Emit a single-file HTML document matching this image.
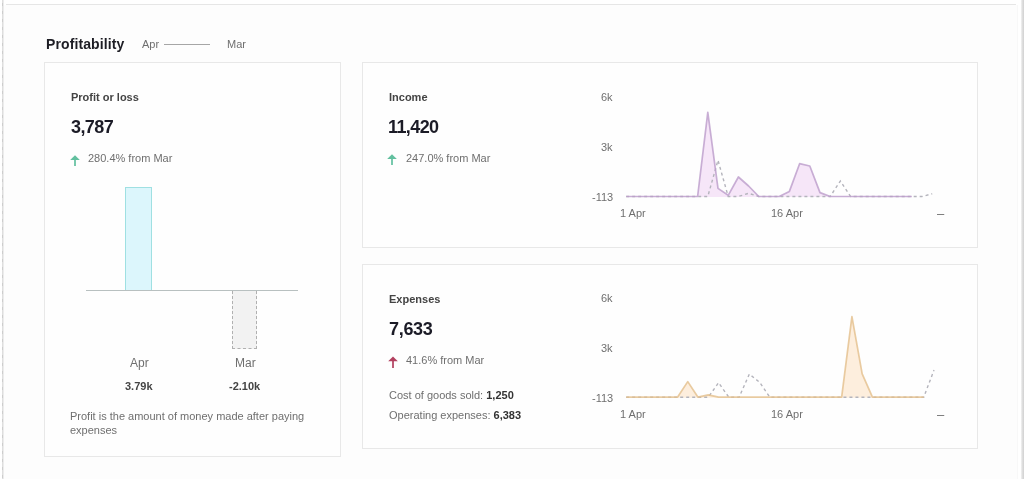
<!DOCTYPE html>
<html><head><meta charset="utf-8">
<style>
html,body{margin:0;padding:0;background:#fff;}
body{width:1024px;height:479px;overflow:hidden;position:relative;font-family:"Liberation Sans",Arial,sans-serif;color:#333;}
.a{position:absolute;white-space:nowrap;line-height:1;will-change:transform;}
.frame-l{position:absolute;left:2px;top:0;width:1px;height:479px;background:repeating-linear-gradient(to bottom,#dedede 0,#dedede 3px,#cdcdcd 3px,#cdcdcd 6px,#dedede 6px,#dedede 8px);box-shadow:1px 0 0 #ececec;}
.frame-t{position:absolute;left:6px;top:4px;width:1010px;height:0;border-top:1px solid #e6e6e6;}
.frame-r{position:absolute;left:1021px;top:0;width:3px;height:479px;background:linear-gradient(to right,#f2f2f2,#dadada 60%,#d2d2d2);}
.frame-r2{position:absolute;left:1017px;top:5px;width:1px;height:474px;background:#f8f8f8;}
.card{position:absolute;border:1px solid #e8e8e8;background:#fefefe;box-sizing:border-box;}
.title{font-size:14px;font-weight:700;color:#1d1d24;letter-spacing:0.1px;}
.lbl{font-size:11px;font-weight:700;color:#444;}
.big{font-size:18px;font-weight:700;color:#1b1b26;letter-spacing:-0.6px;}
.sub{font-size:11px;color:#6f6f6f;}
.ax{font-size:11px;color:#6f6f6f;}
.b{font-weight:700;color:#333;}
</style></head><body>
<div style="position:absolute;left:4px;top:5px;width:1013px;height:474px;background:#fdfdfd;"></div>
<div class="frame-l"></div>
<div class="frame-t"></div>
<div class="frame-r2"></div>
<div class="frame-r"></div>

<div class="a title" style="left:46px;top:37px;">Profitability</div>
<div class="a sub" style="left:142px;top:39px;">Apr</div>
<div style="position:absolute;left:164px;top:44px;width:46px;height:1px;background:#a6a6a6;"></div>
<div class="a sub" style="left:227px;top:39px;">Mar</div>

<!-- Card 1 -->
<div class="card" style="left:44px;top:62px;width:297px;height:395px;"></div>
<div class="a lbl" style="left:71px;top:92px;">Profit or loss</div>
<div class="a big" style="left:71px;top:118px;">3,787</div>
<svg class="a" style="left:70px;top:154.8px" width="10" height="12" viewBox="0 0 10 12"><path d="M5 0.2 L9.8 5 L0.2 5 Z" fill="#62c09f"/><rect x="4.15" y="4" width="1.7" height="7" fill="#62c09f"/></svg>
<div class="a sub" style="left:88px;top:153px;">280.4% from Mar</div>
<div style="position:absolute;left:125px;top:187px;width:27px;height:104px;box-sizing:border-box;background:#dcf6fc;border:1px solid #9fe0e2;"></div>
<div style="position:absolute;left:86px;top:290px;width:212px;height:1px;background:#b8c0c0;"></div>
<div style="position:absolute;left:232px;top:291px;width:25px;height:58px;box-sizing:border-box;background:#f2f2f2;border:1px dashed #b0b0b0;border-top:none;"></div>
<div class="a sub" style="left:130px;top:357px;font-size:12px;">Apr</div>
<div class="a sub" style="left:235px;top:357px;font-size:12px;">Mar</div>
<div class="a b" style="left:125px;top:380.5px;font-size:11px;color:#444;">3.79k</div>
<div class="a b" style="left:229px;top:380.5px;font-size:11px;color:#444;">-2.10k</div>
<div class="a sub" style="left:70px;top:409px;line-height:14px;white-space:normal;width:250px;">Profit is the amount of money made after paying expenses</div>

<!-- Card 2 -->
<div class="card" style="left:362px;top:62px;width:616px;height:186px;"></div>
<div class="a lbl" style="left:389px;top:92px;">Income</div>
<div class="a big" style="left:388px;top:118px;">11,420</div>
<svg class="a" style="left:387px;top:154.4px" width="10" height="12" viewBox="0 0 10 12"><path d="M5 0.2 L9.8 5 L0.2 5 Z" fill="#62c09f"/><rect x="4.15" y="4" width="1.7" height="7" fill="#62c09f"/></svg>
<div class="a sub" style="left:406px;top:153px;">247.0% from Mar</div>
<div class="a ax" style="right:411px;top:92px;">6k</div>
<div class="a ax" style="right:411px;top:142px;">3k</div>
<div class="a ax" style="right:411px;top:192px;">-113</div>
<div class="a ax" style="left:620px;top:208px;">1 Apr</div>
<div class="a ax" style="left:771px;top:208px;">16 Apr</div>
<div class="a ax" style="left:936.5px;top:207px;font-size:13px;">–</div>

<!-- Card 3 -->
<div class="card" style="left:362px;top:264px;width:616px;height:185px;"></div>
<div class="a lbl" style="left:389px;top:294px;">Expenses</div>
<div class="a big" style="left:388.5px;top:320px;letter-spacing:-0.3px;">7,633</div>
<svg class="a" style="left:387.8px;top:355.6px" width="10" height="13" viewBox="0 0 10 13"><path d="M5 0.4 L9.8 5.2 L0.2 5.2 Z" fill="#b2405f"/><rect x="4.15" y="4" width="1.7" height="8" fill="#b2405f"/></svg>
<div class="a sub" style="left:406px;top:355px;">41.6% from Mar</div>
<div class="a sub" style="left:389px;top:390px;">Cost of goods sold: <span class="b">1,250</span></div>
<div class="a sub" style="left:389px;top:410px;">Operating expenses: <span class="b">6,383</span></div>
<div class="a ax" style="right:411px;top:293px;">6k</div>
<div class="a ax" style="right:411px;top:343px;">3k</div>
<div class="a ax" style="right:411px;top:393px;">-113</div>
<div class="a ax" style="left:620px;top:409px;">1 Apr</div>
<div class="a ax" style="left:771px;top:409px;">16 Apr</div>
<div class="a ax" style="left:936.5px;top:408px;font-size:13px;">–</div>
<svg id="charts" style="position:absolute;left:0;top:0" width="1024" height="479">
<path d="M626.2,196.5 L636.4,196.5 L646.6,196.5 L656.8,196.5 L667.0,196.5 L677.2,196.5 L687.4,196.5 L697.6,196.5 L707.8,112.3 L718.0,188.4 L728.2,195.3 L738.4,177.0 L748.6,186.0 L758.8,196.5 L769.0,196.5 L779.2,196.5 L789.4,191.4 L799.6,163.7 L809.8,166.0 L820.0,192.6 L830.2,196.5 L840.4,196.5 L850.6,196.5 L860.8,196.5 L871.0,196.5 L881.2,196.5 L891.4,196.5 L901.6,196.5 L911.8,196.5 L911.8,197.0 L626.2,197.0 Z" fill="#f6e6f8" stroke="none"/>
<path d="M626.2,196.5 L636.4,196.5 L646.6,196.5 L656.8,196.5 L667.0,196.5 L677.2,196.5 L687.4,196.5 L697.6,196.5 L707.8,196.5 L718.0,160.3 L728.2,196.5 L738.4,196.5 L748.6,193.3 L758.8,196.5 L769.0,196.5 L779.2,196.5 L789.4,196.5 L799.6,196.5 L809.8,196.5 L820.0,196.5 L830.2,196.5 L840.4,181.0 L850.6,196.5 L860.8,196.5 L871.0,196.5 L881.2,196.5 L891.4,196.5 L901.6,196.5 L911.8,196.5 L922.0,196.5 L932.2,193.8" fill="none" stroke="#b4b4bc" stroke-width="1.4" stroke-dasharray="3 3"/>
<path d="M626.2,196.5 L636.4,196.5 L646.6,196.5 L656.8,196.5 L667.0,196.5 L677.2,196.5 L687.4,196.5 L697.6,196.5 L707.8,112.3 L718.0,188.4 L728.2,195.3 L738.4,177.0 L748.6,186.0 L758.8,196.5 L769.0,196.5 L779.2,196.5 L789.4,191.4 L799.6,163.7 L809.8,166.0 L820.0,192.6 L830.2,196.5 L840.4,196.5 L850.6,196.5 L860.8,196.5 L871.0,196.5 L881.2,196.5 L891.4,196.5 L901.6,196.5 L911.8,196.5" fill="none" stroke="#bb9ccb" stroke-width="1.7" stroke-linejoin="round" stroke-opacity="0.8"/>
<path d="M626.2,397.2 L636.46,397.2 L646.72,397.2 L656.98,397.2 L667.24,397.2 L677.5,397.2 L687.76,381.6 L698.02,397.2 L708.28,394.9 L718.54,397.2 L728.8,397.2 L739.06,397.2 L749.32,397.2 L759.58,397.2 L769.84,397.2 L780.1,397.2 L790.36,397.2 L800.62,397.2 L810.88,397.2 L821.14,397.2 L831.4,397.2 L841.66,397.2 L851.92,316.6 L862.18,373.9 L872.44,397.2 L882.7,397.2 L892.96,397.2 L903.22,397.2 L913.48,397.2 L923.74,397.2 L923.74,397.7 L626.2,397.7 Z" fill="#fdeedd" stroke="none"/>
<path d="M626.2,397.2 L636.46,397.2 L646.72,397.2 L656.98,397.2 L667.24,397.2 L677.5,397.2 L687.76,397.2 L698.02,397.2 L708.28,397.2 L718.54,382.7 L728.8,397.2 L739.06,397.2 L749.32,374.1 L759.58,382.2 L769.84,397.2 L780.1,397.2 L790.36,397.2 L800.62,397.2 L810.88,397.2 L821.14,397.2 L831.4,397.2 L841.66,397.2 L851.92,397.2 L862.18,397.2 L872.44,397.2 L882.7,397.2 L892.96,397.2 L903.22,397.2 L913.48,397.2 L923.74,397.2 L934.0,370.1" fill="none" stroke="#b4b4bc" stroke-width="1.4" stroke-dasharray="3 3"/>
<path d="M626.2,397.2 L636.46,397.2 L646.72,397.2 L656.98,397.2 L667.24,397.2 L677.5,397.2 L687.76,381.6 L698.02,397.2 L708.28,394.9 L718.54,397.2 L728.8,397.2 L739.06,397.2 L749.32,397.2 L759.58,397.2 L769.84,397.2 L780.1,397.2 L790.36,397.2 L800.62,397.2 L810.88,397.2 L821.14,397.2 L831.4,397.2 L841.66,397.2 L851.92,316.6 L862.18,373.9 L872.44,397.2 L882.7,397.2 L892.96,397.2 L903.22,397.2 L913.48,397.2 L923.74,397.2" fill="none" stroke="#e3bf8c" stroke-width="1.7" stroke-linejoin="round" stroke-opacity="0.8"/>
</svg>
</body></html>
